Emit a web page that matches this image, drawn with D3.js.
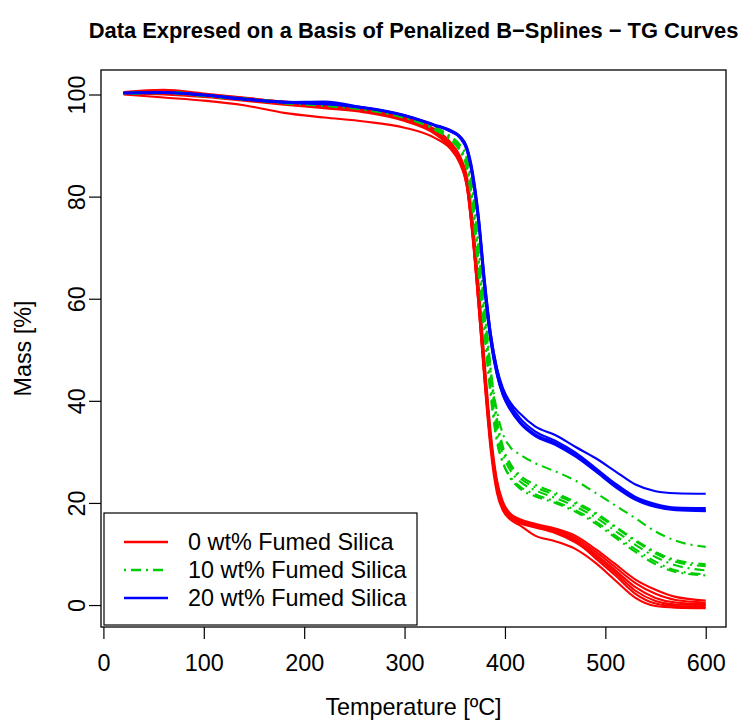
<!DOCTYPE html>
<html>
<head>
<meta charset="utf-8">
<script src="https://cdn.jsdelivr.net/npm/d3@7"></script>
<style>
  body { margin: 0; background: #fff; }
  text { font-family: "Liberation Sans", Arial, sans-serif; fill: #000; }
</style>
</head>
<body>
<div id="chart"></div>
<script>
// temperature grid [ºC] shared by every curve
var temps = [20, 60, 100, 140, 180, 220, 260, 300, 330, 345, 355, 362, 368, 374, 380, 386, 392, 398, 405, 415, 430, 450, 470, 490, 510, 530, 550, 570, 600];

// 0 wt% fumed silica (red)
var silica0 = [
    [100.0, 99.4, 98.8, 97.9, 96.4, 95.5, 94.7, 93.5, 91.5, 89.5, 86.5, 82.0, 72.0, 58.0, 43.0, 30.0, 22.0, 18.5, 16.8, 15.6, 13.6, 12.5, 11.0, 8.3, 4.8, 1.4, -0.2, -0.5, -0.6],
    [100.2, 100.0, 99.5, 98.8, 98.0, 97.3, 96.5, 94.8, 92.3, 89.8, 87.0, 82.5, 72.0, 58.5, 44.0, 31.0, 22.8, 19.0, 17.2, 16.0, 15.2, 14.1, 12.3, 9.6, 6.3, 2.8, 0.8, 0.1, 0.0],
    [100.5, 100.9, 100.2, 99.4, 98.6, 98.0, 97.2, 95.5, 93.2, 90.8, 88.0, 84.0, 75.0, 62.0, 47.0, 33.5, 24.5, 20.2, 18.0, 16.8, 15.9, 15.0, 13.6, 11.0, 8.0, 5.0, 3.0, 1.6, 0.9],
    [100.3, 100.5, 99.9, 99.1, 98.3, 97.7, 96.9, 95.1, 92.7, 90.1, 87.2, 82.8, 72.5, 59.5, 44.5, 31.5, 23.2, 19.3, 17.5, 16.3, 15.5, 14.5, 12.8, 10.0, 6.8, 3.5, 1.4, 0.5, 0.2],
    [100.4, 100.7, 100.0, 99.3, 98.5, 97.9, 97.1, 95.3, 93.0, 90.5, 87.8, 83.5, 74.0, 61.0, 46.0, 32.5, 24.0, 19.8, 17.8, 16.6, 15.7, 14.8, 13.2, 10.5, 7.4, 4.3, 2.2, 1.0, 0.5],
    [100.2, 100.4, 99.8, 99.0, 98.3, 97.6, 96.8, 95.0, 92.5, 90.0, 87.0, 82.0, 71.5, 58.0, 43.5, 31.0, 23.0, 19.2, 17.4, 16.2, 15.4, 14.3, 12.5, 9.2, 5.8, 2.2, 0.3, -0.2, -0.3]
];

// 10 wt% fumed silica (green, dot-dash)
var silica10 = [
    [100.2, 100.4, 99.8, 99.1, 98.4, 97.9, 97.2, 95.6, 93.4, 91.5, 89.5, 86.5, 79.0, 67.0, 55.0, 43.0, 34.0, 29.5, 26.5, 24.2, 22.5, 21.0, 19.3, 17.2, 14.5, 11.8, 9.4, 7.8, 6.8],
    [100.1, 100.3, 99.7, 99.0, 98.3, 97.8, 97.0, 95.4, 93.1, 91.2, 89.0, 85.5, 77.0, 64.5, 52.0, 40.5, 32.0, 27.8, 25.2, 23.2, 21.7, 20.3, 18.6, 16.4, 13.6, 10.9, 8.5, 6.8, 6.0],
    [100.3, 100.5, 99.9, 99.2, 98.5, 98.0, 97.3, 95.7, 93.6, 91.8, 90.0, 87.3, 80.5, 69.0, 57.0, 45.0, 35.5, 30.5, 27.3, 24.9, 23.1, 21.6, 19.9, 17.8, 15.2, 12.5, 10.1, 8.5, 7.6],
    [100.2, 100.4, 99.8, 99.1, 98.4, 97.9, 97.1, 95.5, 93.3, 91.3, 89.2, 86.0, 78.0, 66.0, 53.5, 41.5, 32.5, 28.0, 25.0, 22.8, 21.3, 20.0, 18.3, 16.0, 13.2, 10.4, 8.0, 6.5, 5.8],
    [100.3, 100.5, 99.9, 99.2, 98.5, 98.0, 97.3, 95.8, 93.7, 91.9, 90.2, 87.8, 81.5, 70.0, 58.0, 46.0, 36.5, 31.0, 27.8, 25.4, 23.6, 22.0, 20.2, 18.1, 15.4, 12.7, 10.4, 8.8, 8.0],
    [100.1, 100.3, 99.7, 99.0, 98.3, 97.8, 97.1, 95.5, 93.3, 91.4, 89.3, 86.2, 78.5, 67.0, 56.0, 45.5, 38.0, 33.5, 31.0, 29.5, 27.8, 26.2, 24.4, 22.0, 19.5, 17.0, 14.4, 12.6, 11.4]
];

// 20 wt% fumed silica (blue)
var silica20 = [
    [100.3, 100.4, 99.9, 99.1, 98.5, 98.2, 97.4, 95.9, 94.0, 93.0, 91.8, 89.5, 84.0, 75.0, 62.0, 52.0, 45.5, 41.5, 38.8, 36.0, 33.5, 31.8, 29.5, 26.6, 23.5, 21.0, 19.6, 18.9, 18.7],
    [100.4, 100.5, 100.0, 99.2, 98.6, 98.3, 97.5, 96.0, 94.1, 93.1, 91.9, 89.8, 84.8, 76.0, 63.5, 53.0, 46.3, 42.2, 39.4, 36.6, 34.0, 32.2, 29.9, 26.9, 23.8, 21.2, 19.8, 19.1, 19.0],
    [100.2, 100.3, 99.8, 99.0, 98.4, 98.1, 97.3, 95.8, 93.9, 92.8, 91.5, 89.0, 83.2, 74.0, 61.0, 51.2, 45.0, 41.0, 38.3, 35.6, 33.1, 31.4, 29.1, 26.2, 23.1, 20.6, 19.2, 18.6, 18.4],
    [100.3, 100.4, 99.9, 99.1, 98.5, 98.6, 97.4, 95.9, 94.0, 92.9, 91.7, 89.3, 83.6, 74.5, 61.5, 51.6, 45.2, 41.2, 38.6, 35.8, 33.3, 31.6, 29.3, 26.4, 23.3, 20.8, 19.4, 18.7, 18.5],
    [100.3, 100.4, 99.9, 99.1, 98.5, 98.2, 97.4, 95.9, 94.0, 93.0, 91.8, 89.6, 84.3, 75.5, 63.0, 53.0, 46.5, 42.5, 39.8, 37.5, 35.0, 33.3, 31.0, 28.8, 26.2, 23.6, 22.3, 21.9, 21.8]
];

var groupNames = ["0 wt% Fumed Silica", "10 wt% Fumed Silica", "20 wt% Fumed Silica"];
var groupColors = ["#ff0000", "#00cd00", "#0000ff"];
var groupDash = [null, "2,5,10,5", null];
var xTicks = [0, 100, 200, 300, 400, 500, 600];
var yTicks = [0, 20, 40, 60, 80, 100];

var width = 741, height = 720;
var box = { left: 101, right: 726, top: 70, bottom: 627 };
var fontSize = "23.4px";

var svg = d3.select("#chart")
    .append("svg")
    .attr("width", width)
    .attr("height", height);

var x = d3.scaleLinear().domain([-2.4, 620.2]).range([box.left, box.right]);
var y = d3.scaleLinear().domain([-4.3, 104.8]).range([box.bottom, box.top]);

var line = d3.line()
    .x(function (d, i) { return x(temps[i]); })
    .y(function (d) { return y(d); })
    .curve(d3.curveMonotoneX);

var groups = [silica0, silica10, silica20];

groups.forEach(function (curves, g) {
    svg.append("g")
        .selectAll("path")
        .data(curves)
        .enter().append("path")
        .attr("d", line)
        .attr("fill", "none")
        .attr("stroke", groupColors[g])
        .attr("stroke-width", 2.1)
        .attr("stroke-dasharray", groupDash[g])
        .attr("stroke-linejoin", "round");
});

// axes, R style
var xAxis = svg.append("g")
    .attr("transform", "translate(0," + box.bottom + ")")
    .call(d3.axisBottom(x).tickValues(xTicks).tickSize(12).tickPadding(15));
var yAxis = svg.append("g")
    .attr("transform", "translate(" + box.left + ",0)")
    .call(d3.axisLeft(y).tickValues(yTicks).tickSize(12));

[xAxis, yAxis].forEach(function (a) {
    a.select(".domain").remove();
    a.selectAll("line").attr("stroke", "#000").attr("stroke-width", 1.2);
    a.selectAll("text").style("font-size", fontSize).attr("fill", "#000")
        .style("font-family", "'Liberation Sans', Arial, sans-serif");
});

yAxis.selectAll("text")
    .attr("x", null)
    .attr("dy", null)
    .attr("text-anchor", "middle")
    .attr("transform", "translate(-16,0) rotate(-90)");

svg.append("rect")
    .attr("x", box.left)
    .attr("y", box.top)
    .attr("width", box.right - box.left)
    .attr("height", box.bottom - box.top)
    .attr("fill", "none")
    .attr("stroke", "#000")
    .attr("stroke-width", 1.3);

// titles
svg.append("text")
    .attr("x", (box.left + box.right) / 2)
    .attr("y", 38)
    .attr("text-anchor", "middle")
    .style("font-size", "21.9px")
    .style("font-weight", "bold")
    .text("Data Expresed on a Basis of Penalized B\u2212Splines \u2212 TG Curves");

svg.append("text")
    .attr("x", (box.left + box.right) / 2)
    .attr("y", 715)
    .attr("text-anchor", "middle")
    .style("font-size", fontSize)
    .text("Temperature [ºC]");

svg.append("text")
    .attr("transform", "translate(31," + (box.top + box.bottom) / 2 + ") rotate(-90)")
    .attr("text-anchor", "middle")
    .style("font-size", fontSize)
    .text("Mass [%]");

// legend
var legend = svg.append("g");
legend.append("rect")
    .attr("x", 104).attr("y", 513)
    .attr("width", 313).attr("height", 112)
    .attr("fill", "#fff")
    .attr("stroke", "#000")
    .attr("stroke-width", 1.2);

groupNames.forEach(function (name, i) {
    var ly = 542 + i * 28;
    legend.append("line")
        .attr("x1", 124).attr("x2", 168)
        .attr("y1", ly).attr("y2", ly)
        .attr("stroke", groupColors[i])
        .attr("stroke-width", 2.3)
        .attr("stroke-dasharray", groupDash[i]);
    legend.append("text")
        .attr("x", 188).attr("y", ly)
        .attr("dy", "0.36em")
        .style("font-size", fontSize)
        .text(name);
});
</script>
</body>
</html>
